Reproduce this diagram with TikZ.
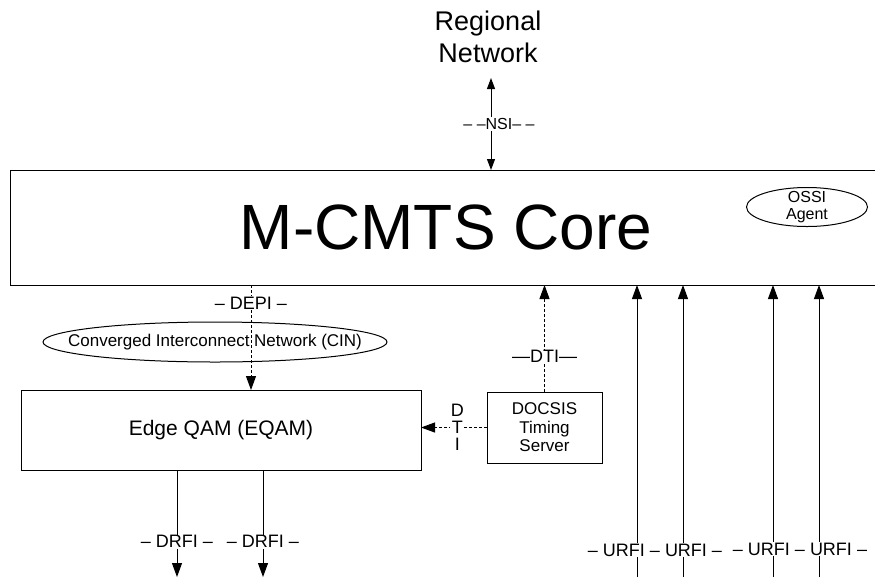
\documentclass[tikz,border=0pt]{standalone}
\usepackage{fontspec}
\setmainfont{Liberation Sans}
\usetikzlibrary{arrows.meta,shapes.geometric}
\begin{document}
\begin{tikzpicture}[x=1pt,y=-1pt,
  box/.style={draw, line width=1pt, inner sep=0pt, outer sep=0pt, rectangle},
  ovaltext/.style={inner sep=0pt, outer sep=0pt, align=center},
  ovalline/.style={line width=1pt},
  conn/.style={line width=1pt},
  dconn/.style={line width=1pt, dash pattern=on 3pt off 2pt},
  tip/.style={-{Triangle[length=14pt,width=10pt]}},
  lbl/.style={fill=white, inner sep=1pt, font=\fontsize{18}{20}\selectfont}
]
\useasboundingbox (0,0) rectangle (875,582);

% nodes
\node[align=center, font=\fontsize{27}{32}\selectfont] (rn) at (488,37) {Regional\\Network};
\coordinate (nsitop) at (491,78);
\node[box, minimum width=872pt, minimum height=115pt,
      font=\fontsize{64}{70}\selectfont] (core) at (446,227.5) {M-CMTS Core};
\node[ovaltext, font=\fontsize{16}{17}\selectfont] (ossi) at (807,207) {OSSI\\Agent};
\draw[ovalline] (ossi.center) ellipse [x radius=60.5pt, y radius=19.5pt];
\node[ovaltext, font=\fontsize{17}{19}\selectfont] (cin) at (215,342) {Converged Interconnect Network (CIN)};
\draw[ovalline] (cin.center) ellipse [x radius=172pt, y radius=20pt];
\node[box, minimum width=400pt, minimum height=80pt,
      font=\fontsize{21}{23}\selectfont] (eqam) at (221,430) {Edge QAM (EQAM)};
\node[box, minimum width=115pt, minimum height=71pt, align=center,
      font=\fontsize{17}{18.5}\selectfont] (dts) at (544.5,427.5) {DOCSIS\\Timing\\Server};

% NSI
\draw[conn, {Triangle[length=11pt,width=8pt]}-{Triangle[length=11pt,width=8pt]}]
  (nsitop) -- (nsitop |- core.north)
  node[pos=0.5, fill=white, inner sep=1pt, xshift=8pt, font=\fontsize{16}{18}\selectfont] {– –NSI– –};

% DEPI
\coordinate (depix) at (251,0);
\draw[dconn, tip] (depix |- core.south) -- (depix |- eqam.north)
  node[pos=0.17, lbl] {– DEPI –};

% DTI vertical
\draw[dconn, tip] (dts.north) -- (dts.north |- core.south)
  node[pos=0.33, lbl] {—DTI—};

% DTI horizontal
\draw[dconn, tip] (dts.west) -- (dts.west -| eqam.east)
  node[pos=0.45, fill=white, inner sep=0.5pt, align=center,
       font=\fontsize{18}{17}\selectfont] {D\\T\\I};

% DRFI
\coordinate (d1) at (177,577);
\coordinate (d2) at (263,577);
\draw[conn, tip] (d1 |- eqam.south) -- (d1) node[pos=0.67, lbl] {– DRFI –};
\draw[conn, tip] (d2 |- eqam.south) -- (d2) node[pos=0.67, lbl] {– DRFI –};

% URFI
\coordinate (u1) at (637,577);
\coordinate (u2) at (683,577);
\coordinate (u3) at (773,577);
\coordinate (u4) at (819,577);
\draw[conn, tip] (u1) -- (u1 |- core.south);
\draw[conn, tip] (u2) -- (u2 |- core.south);
\draw[conn, tip] (u3) -- (u3 |- core.south);
\draw[conn, tip] (u4) -- (u4 |- core.south);
\node[lbl] (ul1) at (655,550) {– URFI – URFI –};
\node[lbl] (ul2) at (800,549) {– URFI – URFI –};
\end{tikzpicture}
\end{document}
